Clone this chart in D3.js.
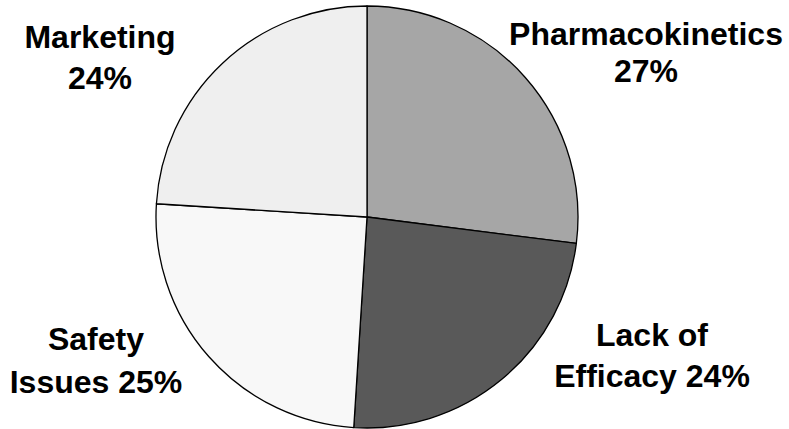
<!DOCTYPE html>
<html>
<head>
<meta charset="utf-8">
<script src="https://cdn.jsdelivr.net/npm/d3@7"></script>
<style>
  html, body { margin: 0; padding: 0; background: #fff; }
  svg { display: block; }
  .lbl { font-family: "Liberation Sans", Arial, Helvetica, sans-serif; font-weight: bold; font-size: 32px; fill: #000; }
</style>
</head>
<body>
<svg id="chart" width="789" height="429"></svg>
<script>
// Reasons for attrition, clockwise from 12 o'clock
const categories = ["Pharmacokinetics", "Lack of Efficacy", "Safety Issues", "Marketing"];
const values = [27, 24, 25, 24];
// How each label is broken over two lines; the percentage is appended to the second line
const labelFirstLine = ["Pharmacokinetics", "Lack of", "Safety", "Marketing"];
const labelSecondPrefix = ["", "Efficacy", "Issues", ""];
const fills = ["#a6a6a6", "#595959", "#f8f8f8", "#efefef"];

const width = 789, height = 429;
const cx = 367, cy = 217, radius = 211;

const svg = d3.select("#chart");

const pie = d3.pie().sort(null).value(d => d.value);
const arc = d3.arc().innerRadius(0).outerRadius(radius);

const data = categories.map((c, i) => ({ name: c, value: values[i], fill: fills[i],
  line1: labelFirstLine[i],
  line2: (labelSecondPrefix[i] ? labelSecondPrefix[i] + " " : "") + values[i] + "%" }));

const g = svg.append("g").attr("transform", `translate(${cx},${cy})`);

g.selectAll("path")
  .data(pie(data))
  .join("path")
  .attr("d", arc)
  .attr("fill", d => d.data.fill)
  .attr("stroke", "#000")
  .attr("stroke-width", 1.3)
  .attr("stroke-linejoin", "round");

// Label anchors (centre x, first baseline, line gap) per slice
const labelLayout = [
  { x: 646, y: 45, gap: 37 },
  { x: 652, y: 346, gap: 41 },
  { x: 96, y: 350, gap: 43 },
  { x: 100, y: 48, gap: 41 }
];

const labels = svg.selectAll("text.lbl")
  .data(data)
  .join("text")
  .attr("class", "lbl")
  .attr("text-anchor", "middle");

labels.each(function(d, i) {
  const L = labelLayout[i];
  const t = d3.select(this);
  t.append("tspan").attr("x", L.x).attr("y", L.y).text(d.line1);
  t.append("tspan").attr("x", L.x).attr("y", L.y + L.gap).text(d.line2);
});
</script>
</body>
</html>
